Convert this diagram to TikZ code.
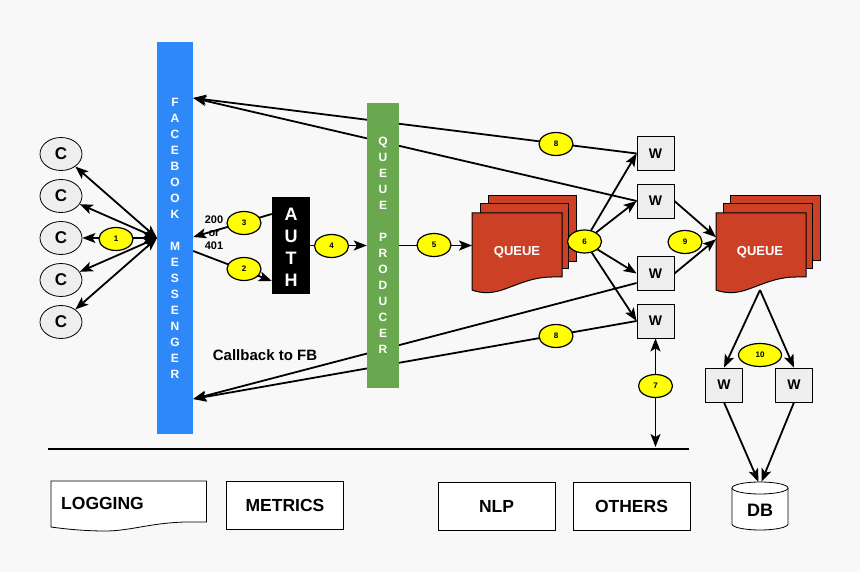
\documentclass[tikz,border=0pt]{standalone}
\usepackage{fontspec}
\setmainfont{Liberation Sans}
\usetikzlibrary{shapes.geometric,arrows.meta}
\pgfdeclarelayer{back}
\pgfdeclarelayer{bg}
\pgfsetlayers{back,bg,main}
\definecolor{bgc}{HTML}{F8F8F8}
\definecolor{fbblue}{HTML}{2F88F8}
\definecolor{prodgreen}{HTML}{6AA84F}
\definecolor{qred}{HTML}{CC4125}
\definecolor{wgray}{HTML}{EEEEEE}
\definecolor{ylw}{HTML}{FFFF00}
\begin{document}
\begin{tikzpicture}[x=1pt,y=-1pt,
  conn/.style={line width=1.8pt, black},
  arr/.style={conn, -{Stealth[length=13pt,width=10pt,inset=3pt]}},
  barr/.style={conn, {Stealth[length=13pt,width=10pt,inset=3pt]}-{Stealth[length=13pt,width=10pt,inset=3pt]}},
  num/.style={ellipse, draw=black, line width=1.2pt, fill=ylw, minimum width=34pt, minimum height=23pt, inner sep=0pt, font=\bfseries\fontsize{8}{8}\selectfont},
  cnode/.style={ellipse, draw=black, line width=0.8pt, fill=wgray, minimum width=42pt, minimum height=33pt, inner sep=0pt, font=\bfseries\fontsize{17}{17}\selectfont},
  wbox/.style={rectangle, draw=black, line width=0.8pt, fill=wgray, minimum width=37pt, minimum height=34pt, inner sep=0pt, font=\bfseries\fontsize{14}{14}\selectfont},
  svc/.style={rectangle, draw=black, line width=0.8pt, fill=white, minimum width=117pt, minimum height=48pt, inner sep=0pt, font=\bfseries\fontsize{17.5}{17.5}\selectfont},
  bartext/.style={text=white, align=center, inner sep=0pt, font=\bfseries\fontsize{12}{16}\selectfont},
  qshape/.style={draw=black, line width=1pt, fill=qred},
  qtext/.style={text=white, font=\bfseries\fontsize{13}{13}\selectfont},
  lbl/.style={font=\bfseries\fontsize{15}{15}\selectfont, inner sep=0pt}
]
\useasboundingbox (0,0) rectangle (860,572);
\begin{pgfonlayer}{back}
\fill[bgc] (0,0) rectangle (860,572);
\end{pgfonlayer}

% clients
\node[cnode] (c1) at (61,154) {C};
\node[cnode] (c2) at (61,196) {C};
\node[cnode] (c3) at (61,238) {C};
\node[cnode] (c4) at (61,280) {C};
\node[cnode] (c5) at (61,322) {C};

% messenger bar
\node[fill=fbblue, minimum width=36pt, minimum height=392pt, inner sep=0pt] (fb) at (175,238) {};
\node[bartext] (fbt) at (fb.center) {F\\A\\C\\E\\B\\O\\O\\K\\[16pt]M\\E\\S\\S\\E\\N\\G\\E\\R};

% auth
\node[fill=black, minimum width=38pt, minimum height=97pt, inner sep=0pt] (auth) at (291,245.5) {};
\node[text=white, align=center, inner sep=0pt, font=\bfseries\fontsize{18}{22}\selectfont] (autht) at (291,247) {A\\U\\T\\H};

% producer
\node[fill=prodgreen, minimum width=32pt, minimum height=285pt, inner sep=0pt] (prod) at (383,245.5) {};
\node[bartext] (prodt) at (prod.center) {Q\\U\\E\\U\\E\\[16pt]P\\R\\O\\D\\U\\C\\E\\R};

% queue 1
\begin{scope}[shift={(472,213)}]
\draw[qshape] (16,-17) rectangle (104,49);
\draw[qshape] (8,-9) rectangle (96,56);
\draw[qshape] (0,0) -- (90,0) -- (90,64) -- (80,64) .. controls (60,64) and (45,72) .. (30,77) .. controls (18,81) and (8,80) .. (0,77) -- cycle;
\node[minimum width=90pt, minimum height=64pt, inner sep=0pt, anchor=north west] (q1) at (0,0) {};
\node[qtext] (q1t) at (45,39) {QUEUE};
\end{scope}

% queue 2
\begin{scope}[shift={(716,213)}]
\draw[qshape] (14,-17) rectangle (104,48);
\draw[qshape] (7,-9) rectangle (96,56);
\draw[qshape] (0,0) -- (90,0) -- (90,64) -- (80,64) .. controls (60,64) and (45,72) .. (30,77) .. controls (18,81) and (8,80) .. (0,77) -- cycle;
\node[minimum width=90pt, minimum height=64pt, inner sep=0pt, anchor=north west] (q2) at (0,0) {};
\node[qtext] (q2t) at (44,39) {QUEUE};
\end{scope}
\coordinate (q2b) at (760,290);

% workers
\node[wbox] (w1) at (655.5,153.5) {W};
\node[wbox] (w2) at (655.5,201) {W};
\node[wbox] (w3) at (655.5,273.5) {W};
\node[wbox] (w4) at (655.5,321) {W};
\node[wbox] (w5) at (724,385) {W};
\node[wbox] (w6) at (794,385) {W};

% DB
\node[minimum width=56pt, minimum height=48pt, inner sep=0pt] (db) at (760,506) {};
\fill[white] (732,488) rectangle (788,524);
\fill[white] (760,524) ellipse [x radius=28, y radius=6];
\draw[line width=0.8pt] (732,488) -- (732,524) arc[start angle=180, end angle=0, x radius=28, y radius=6] -- (788,488);
\draw[line width=0.8pt, fill=white] (760,488) ellipse [x radius=28, y radius=6];
\node[font=\bfseries\fontsize{18}{18}\selectfont] (dbt) at (760,510) {DB};

% number labels
\node[num] (n1) at (116,239) {1};
\node[num] (n2) at (244,269) {2};
\node[num] (n3) at (244,223) {3};
\node[num] (n4) at (331.5,246) {4};
\node[num] (n5) at (434,245) {5};
\node[num] (n6) at (584.5,241.5) {6};
\node[num] (n7) at (655.5,386) {7};
\node[num] (n8a) at (556,144) {8};
\node[num] (n8b) at (556,336) {8};
\node[num] (n9) at (685,242) {9};
\node[num, minimum width=43pt] (n10) at (760,355) {10};

% texts
\node[align=center, inner sep=0pt, font=\bfseries\fontsize{11}{13}\selectfont] (code) at (214,233) {200\\or\\401};
\node[lbl] (cb) at (265,355) {Callback to FB};

% bottom services
\coordinate (hl1) at (48,449);
\coordinate (hl2) at (689,449);
\draw[line width=1.8pt] (hl1) -- (hl2);
\draw[line width=0.8pt, fill=white] (51,481) -- (206.5,481) -- (206.5,522) -- (185,522) .. controls (150,523) and (130,531) .. (105,531) .. controls (85,531) and (65,529) .. (51,527) -- cycle;
\node[anchor=west, inner sep=0pt, font=\bfseries\fontsize{17.5}{17.5}\selectfont] (logging) at (61,503) {LOGGING};
\node[svc] (metrics) at (285,505.5) {METRICS};
\node[svc] (nlp) at (496.5,506) {NLP};
\node[svc] (others) at (631.5,506) {OTHERS};

% connectors
\begin{pgfonlayer}{bg}
\coordinate (hub) at (157,238);
\foreach \c in {c1,c2,c3,c4,c5} \draw[barr] (hub) -- (\c);
\draw[arr] ([yshift=-13pt]fb.east) -- ([yshift=-35.5pt]auth.west);
\draw[arr] ([yshift=31.5pt]auth.west) -- ([yshift=1pt]fb.east);
\draw[arr] (auth.east) -- (prod.west);
\draw[arr] (prod.east) -- (prod.east -| q1.west);
\foreach \w in {w1,w2,w3,w4} \draw[arr] (n6) -- (\w.west);
\coordinate (fbT) at ([yshift=140pt]fb.east);
\coordinate (fbB) at ([yshift=-161pt]fb.east);
\draw[arr] (w1.west) -- (fbT);
\draw[arr] (w2.west) -- (fbT);
\draw[arr] ([yshift=-9.5pt]w3.west) -- (fbB);
\draw[arr] (w4.west) -- (fbB);
\coordinate (l7) at (655.5,447);
\draw[barr] (w4.south) -- (l7);
\draw[arr] (w2.east) -- ([yshift=8pt]q2.west);
\draw[arr] (w3.east) -- ([yshift=6pt]q2.west);
\draw[arr] (q2b) -- (w5.north);
\draw[arr] (q2b) -- (w6.north);
\draw[arr] (w5.south) -- ([xshift=-1.5pt]db.north);
\draw[arr] (w6.south) -- ([xshift=1.5pt]db.north);
\end{pgfonlayer}
\end{tikzpicture}
\end{document}
